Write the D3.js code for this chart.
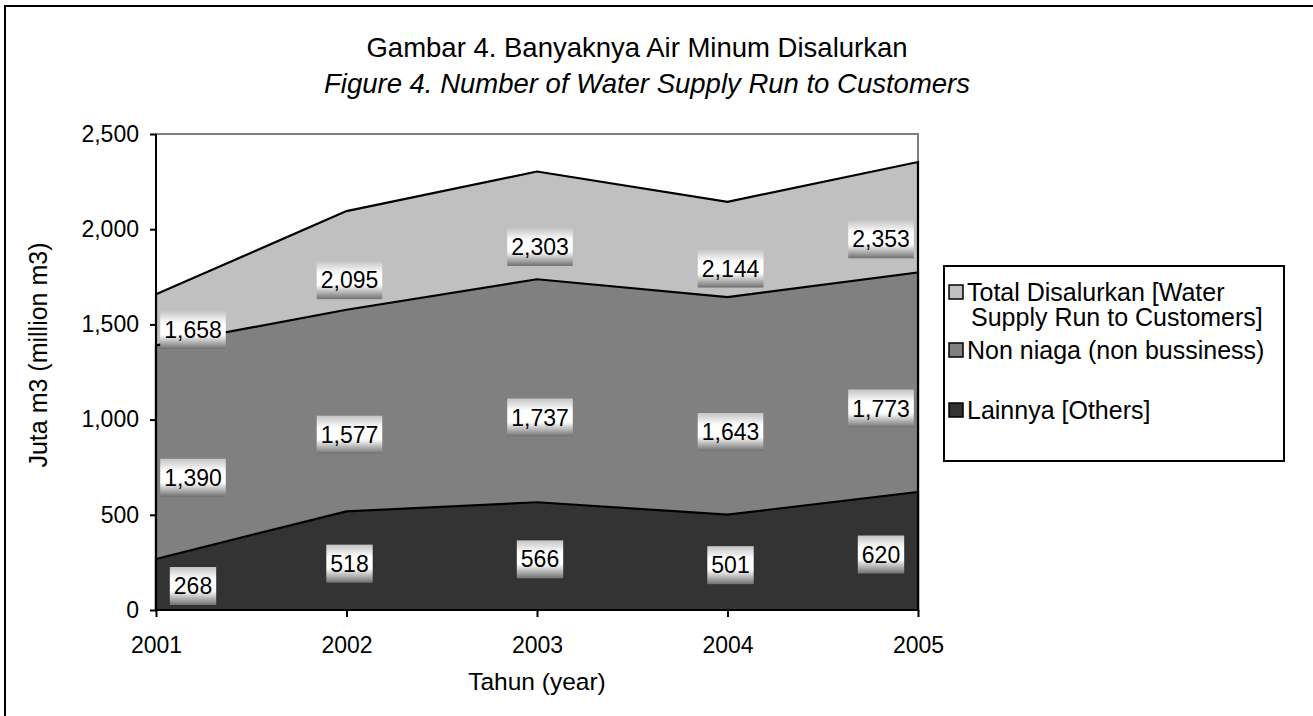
<!DOCTYPE html>
<html>

<head>
  <title>Water Supply</title>
  <style type="text/css">
    body {
      margin: 0;
      background: #fff;
    }

    svg text {
      font-family: "Liberation Sans", Arial, sans-serif;
      fill: #000;
    }
  </style>
</head>

<body>
  <div id="chart"></div>
  <script type="text/javascript" src="https://cdn.jsdelivr.net/npm/d3@7"></script>
  <script type="text/javascript">
    // data
    var years = ["2001", "2002", "2003", "2004", "2005"];
    var total = [1658, 2095, 2303, 2144, 2353];
    var nonNiaga = [1390, 1577, 1737, 1643, 1773];
    var lainnya = [268, 518, 566, 501, 620];
    var yTicks = [0, 500, 1000, 1500, 2000, 2500];
    var seriesNames = [
      ["Total Disalurkan [Water", "Supply Run to Customers]"],
      ["Non niaga (non bussiness)"],
      ["Lainnya [Others]"]
    ];

    var w = 1313, h = 716,
      pLeft = 156, pRight = 918, pTop = 134, pBottom = 610;

    var zeros = years.map(function () { return 0; });
    var series = [
      { values: total, lower: nonNiaga, fill: "#c0c0c0", pos: 0.3 },
      { values: nonNiaga, lower: lainnya, fill: "#808080", pos: 0.38 },
      { values: lainnya, lower: zeros, fill: "#333333", pos: 0.47 }
    ];

    var svg = d3.select("#chart").append("svg")
      .attr("width", w)
      .attr("height", h);

    var grad = svg.append("defs").append("linearGradient")
      .attr("id", "lblGrad")
      .attr("x1", 0).attr("y1", 0).attr("x2", 0).attr("y2", 1);
    grad.append("stop").attr("offset", "0%").attr("stop-color", "#c4c4c4");
    grad.append("stop").attr("offset", "32%").attr("stop-color", "#ffffff");
    grad.append("stop").attr("offset", "62%").attr("stop-color", "#ffffff");
    grad.append("stop").attr("offset", "100%").attr("stop-color", "#707070");

    // outer frame (only top and left visible)
    svg.append("rect")
      .attr("x", 5).attr("y", 6)
      .attr("width", w + 20).attr("height", h + 20)
      .attr("fill", "none")
      .attr("stroke", "#000")
      .attr("stroke-width", 2);

    var x = d3.scalePoint().domain(years).range([pLeft, pRight]);
    var y = d3.scaleLinear().domain([0, 2500]).range([pBottom, pTop]);

    // plot border
    svg.append("rect")
      .attr("x", pLeft).attr("y", pTop)
      .attr("width", pRight - pLeft).attr("height", pBottom - pTop)
      .attr("fill", "none")
      .attr("stroke", "#808080")
      .attr("stroke-width", 2);

    var area = d3.area()
      .x(function (d, i) { return x(years[i]); })
      .y0(y(0))
      .y1(function (d) { return y(d); });

    svg.selectAll("path.area")
      .data(series)
      .enter().append("path")
      .attr("class", "area")
      .attr("d", function (s) { return area(s.values); })
      .attr("fill", function (s) { return s.fill; })
      .attr("stroke", "#000")
      .attr("stroke-width", 2.2);

    // axes
    var yAxis = svg.append("g")
      .attr("transform", "translate(" + pLeft + ",0)")
      .call(d3.axisLeft(y).tickValues(yTicks).tickFormat(d3.format(",")).tickSize(6).tickPadding(11));

    var xAxis = svg.append("g")
      .attr("transform", "translate(0," + pBottom + ")")
      .call(d3.axisBottom(x).tickSize(7).tickPadding(20));

    [yAxis, xAxis].forEach(function (g) {
      g.select(".domain").attr("stroke", "#000").attr("stroke-width", 2);
      g.selectAll(".tick line").attr("stroke", "#000").attr("stroke-width", 2);
      g.selectAll(".tick text")
        .attr("font-family", "Liberation Sans, Arial, sans-serif")
        .attr("font-size", 23)
        .attr("fill", "#000");
    });
    yAxis.select(".domain").attr("d", "M0," + pTop + "V" + pBottom);
    xAxis.select(".domain").attr("d", "M" + pLeft + ",0H" + pRight);

    // data labels
    var labels = [];
    series.forEach(function (s) {
      s.values.forEach(function (v, i) {
        var lo = s.lower[i];
        labels.push({
          text: d3.format(",")(v),
          x: Math.max(pLeft + 37, Math.min(pRight - 37, x(years[i]) + 3)),
          y: y(lo + (v - lo) * s.pos)
        });
      });
    });

    var lbl = svg.selectAll("g.lbl")
      .data(labels)
      .enter().append("g")
      .attr("class", "lbl")
      .attr("transform", function (d) { return "translate(" + d.x + "," + d.y + ")"; });

    lbl.append("text")
      .attr("text-anchor", "middle")
      .attr("y", 8)
      .attr("font-size", 23)
      .text(function (d) { return d.text; });

    lbl.each(function () {
      var g = d3.select(this);
      var bb = g.select("text").node().getBBox();
      g.insert("rect", "text")
        .attr("x", bb.x - 4)
        .attr("y", -19)
        .attr("width", bb.width + 8)
        .attr("height", 38)
        .attr("fill", "url(#lblGrad)");
    });

    // titles
    svg.append("text")
      .attr("x", 637).attr("y", 57)
      .attr("text-anchor", "middle")
      .attr("font-size", 27.5)
      .text("Gambar 4. Banyaknya Air Minum Disalurkan");

    svg.append("text")
      .attr("x", 647).attr("y", 93)
      .attr("text-anchor", "middle")
      .attr("font-size", 27.5)
      .attr("font-style", "italic")
      .text("Figure 4. Number of Water Supply Run to Customers");

    svg.append("text")
      .attr("transform", "translate(38,355) rotate(-90)")
      .attr("text-anchor", "middle")
      .attr("dy", "0.35em")
      .attr("font-size", 25)
      .text("Juta m3 (million m3)");

    svg.append("text")
      .attr("x", (pLeft + pRight) / 2).attr("y", 690)
      .attr("text-anchor", "middle")
      .attr("font-size", 24.5)
      .text("Tahun (year)");

    // legend
    var legend = svg.append("g");
    legend.append("rect")
      .attr("x", 944).attr("y", 266)
      .attr("width", 340).attr("height", 195)
      .attr("fill", "#fff")
      .attr("stroke", "#000")
      .attr("stroke-width", 2);

    var rowY = [292, 350, 410];
    var item = legend.selectAll("g.item")
      .data(series)
      .enter().append("g")
      .attr("class", "item")
      .attr("transform", function (d, i) { return "translate(949," + rowY[i] + ")"; });

    item.append("rect")
      .attr("x", 0).attr("y", -7)
      .attr("width", 14).attr("height", 14)
      .attr("fill", function (d) { return d.fill; })
      .attr("stroke", "#000")
      .attr("stroke-width", 1.5);

    item.each(function (d, i) {
      var t = d3.select(this).append("text")
        .attr("y", 9)
        .attr("font-size", 25);
      seriesNames[i].forEach(function (line, k) {
        t.append("tspan").attr("x", k ? 22 : 18).attr("dy", k ? 25 : 0).text(line);
      });
    });
  </script>
</body>

</html>
